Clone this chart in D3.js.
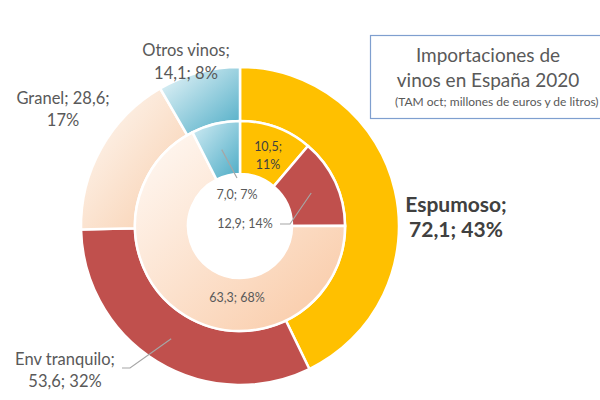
<!DOCTYPE html>
<html><head><meta charset="utf-8">
<script src="https://cdn.jsdelivr.net/npm/d3@7"></script>
<style>
html,body{margin:0;padding:0;background:#fff;overflow:hidden;}
svg{display:block;font-family:Lato,"Open Sans",sans-serif;}
</style></head>
<body>
<script>
// Data
const categories = ["Espumoso", "Env tranquilo", "Granel", "Otros vinos"];
const outerValues = [72.1, 53.6, 28.6, 14.1];   // millones de euros
const outerPct = [43, 32, 17, 8];
const innerValues = [10.5, 12.9, 63.3, 7.0];    // millones de litros
const innerPct = [11, 14, 68, 7];
const titleLines = ["Importaciones de", "vinos en España 2020"];
const subtitle = "(TAM oct; millones de euros y de litros)";

const fmt = v => d3.format(".1f")(v).replace(".", ",");

const W = 600, H = 400;
const cx = 240, cy = 226;
const svg = d3.select("body").append("svg").attr("width", W).attr("height", H);

const defs = svg.append("defs");
function grad(id, c1, c2) {
  const g = defs.append("linearGradient").attr("id", id)
    .attr("x1", 0).attr("y1", 0).attr("x2", 1).attr("y2", 1);
  g.append("stop").attr("offset", "0%").attr("stop-color", c1);
  g.append("stop").attr("offset", "100%").attr("stop-color", c2);
}
grad("gGranelOut", "#fefaf6", "#f8cdab");
grad("gOtrosOut", "#eef8fb", "#4babc5");
grad("gGranelIn", "#fffaf6", "#f9c8a3");
grad("gOtrosIn", "#d2ecf4", "#4babc5");

const outerFill = ["#ffc000", "#c0504d", "url(#gGranelOut)", "url(#gOtrosOut)"];
const innerFill = ["#ffc000", "#c0504d", "url(#gGranelIn)", "url(#gOtrosIn)"];

const pie = d3.pie().sort(null).value(d => d.v);
const outerData = pie(categories.map((c, i) => ({ c, v: outerValues[i], p: outerPct[i], i })));
const innerData = pie(categories.map((c, i) => ({ c, v: innerValues[i], p: innerPct[i], i })));

const arcOuter = d3.arc().innerRadius(105).outerRadius(159);
const arcInner = d3.arc().innerRadius(52).outerRadius(105);

const g = svg.append("g").attr("transform", `translate(${cx},${cy})`);

g.selectAll("path.outer").data(outerData).join("path")
  .attr("class", "outer")
  .attr("d", arcOuter)
  .attr("fill", d => outerFill[d.data.i])
  .attr("stroke", "#fff").attr("stroke-width", 2.5);

g.selectAll("path.inner").data(innerData).join("path")
  .attr("class", "inner")
  .attr("d", arcInner)
  .attr("fill", d => innerFill[d.data.i])
  .attr("stroke", "#fff").attr("stroke-width", 2.5);

// Leader lines
const lineColor = "#a6a6a6";
function leader(pts) {
  g.append("path").attr("d", d3.line()(pts))
    .attr("fill", "none").attr("stroke", lineColor).attr("stroke-width", 1.2);
}
const cEnvOut = arcOuter.centroid(outerData[1]);
leader([cEnvOut, [-110, 142], [-118, 142]]);
const cOtrosIn = arcInner.centroid(innerData[3]);
leader([cOtrosIn, [-3, -48]]);
const cEnvIn = arcInner.centroid(innerData[1]);
leader([cEnvIn, [50, -2], [40, -2]]);

// Labels
const txtColor = "#595959";
function label(lines, x, y, size, opts = {}) {
  const t = g.append("text")
    .attr("text-anchor", "middle")
    .attr("font-size", size)
    .attr("fill", opts.color || txtColor)
    .attr("font-weight", opts.bold ? "bold" : "normal");
  lines.forEach((l, k) => {
    t.append("tspan").attr("x", x).attr("y", y + k * (opts.lh || size * 1.5)).text(l);
  });
}
// Outer labels
label([categories[0] + ";", `${fmt(outerValues[0])}; ${outerPct[0]}%`], 216, -14, 21, { bold: true, color: "#404040", lh: 25 });
label([categories[1] + ";", `${fmt(outerValues[1])}; ${outerPct[1]}%`], -175, 139, 16.5, { lh: 22 });
label([categories[2] + "; " + fmt(outerValues[2]) + ";", `${outerPct[2]}%`], -177, -122, 16.5, { lh: 22 });
label([categories[3] + ";", `${fmt(outerValues[3])}; ${outerPct[3]}%`], -54, -170, 16.5, { lh: 23 });
// Inner labels
const cEspIn = arcInner.centroid(innerData[0]);
label([fmt(innerValues[0]) + ";", `${innerPct[0]}%`], cEspIn[0] + 1, cEspIn[1] - 1, 12.5, { color: "#404040", lh: 18 });
label([`${fmt(innerValues[3])}; ${innerPct[3]}%`], -3, -27, 12.5, {});
label([`${fmt(innerValues[1])}; ${innerPct[1]}%`], 5, 2, 12.5, {});
label([`${fmt(innerValues[2])}; ${innerPct[2]}%`], -3, 76, 12.5, {});

// Title box
svg.append("rect").attr("x", 370.5).attr("y", 35.5).attr("width", 240).attr("height", 83)
  .attr("fill", "#fff").attr("stroke", "#7f9fcf").attr("stroke-width", 1.2);
const tt = svg.append("text").attr("text-anchor", "middle").attr("fill", txtColor).attr("font-size", 19);
titleLines.forEach((l, k) => tt.append("tspan").attr("x", 488).attr("y", 62 + k * 25).text(l));
svg.append("text").attr("x", 395).attr("y", 106).attr("fill", txtColor).attr("font-size", 12).text(subtitle);
</script>
</body></html>
